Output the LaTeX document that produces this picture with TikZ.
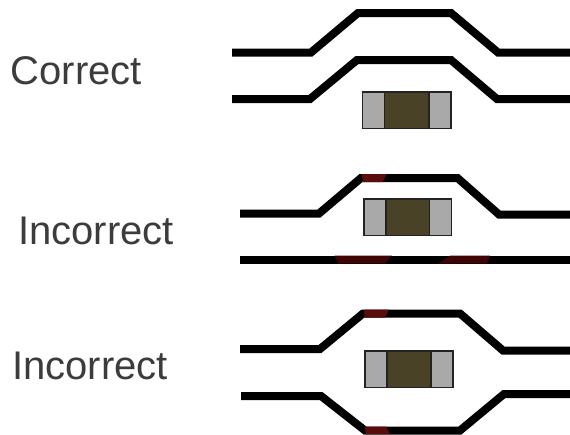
\documentclass[tikz,border=0pt]{standalone}
\usepackage{fontspec}
\setmainfont{Liberation Sans}
\definecolor{lbl}{HTML}{3C3C3C}
\definecolor{padg}{HTML}{A9A9A9}
\definecolor{bodyc}{HTML}{4A4226}
\definecolor{chipe}{HTML}{222222}
\definecolor{flaw}{HTML}{3E0404}
\definecolor{flawtop}{HTML}{5A0C0C}
\tikzset{
  trace/.style={draw=black,line width=8pt,line join=miter,line cap=butt},
  pad/.style={fill=padg,draw=chipe,line width=1.6pt},
  chipbody/.style={fill=bodyc,draw=chipe,line width=1.6pt},
  flawmark/.style={fill=flaw,draw=none},
  flawupper/.style={fill=flawtop,draw=none},
  lab/.style={text=lbl,font=\fontsize{40}{46}\selectfont,inner sep=0pt,anchor=base west}
}
\newcommand{\chipat}[3]{%
  \draw[pad] (#1,#3) rectangle (#2,#3+36.5);
  \pgfmathsetmacro{\ca}{#1+22}\pgfmathsetmacro{\cb}{#2-22}
  \draw[chipbody] (\ca,#3) rectangle (\cb,#3+36.5);
}
\begin{document}
\begin{tikzpicture}[x=1pt,y=-1pt]
\useasboundingbox (0,0) rectangle (570,434);
\fill[white] (0,0) rectangle (570,434);
% labels
\node[lab] (l1) at (10.5,84.5) {Correct};
\node[lab] (l2) at (18,244.5) {Incorrect};
\node[lab] (l3) at (12,379.5) {Incorrect};
% correct
\draw[trace] (232,52.5) -- (311,52.5) -- (358,13) -- (451,13) -- (498,52.5) -- (570,52.5);
\draw[trace] (232,99) -- (310,99) -- (357,60) -- (451,60) -- (497,99) -- (570,99);
\chipat{362.5}{451}{92}
% incorrect 1
\draw[trace] (240,213.5) -- (319,213.5) -- (361,178) -- (457.5,178) -- (499,214.5) -- (570,214.5);
\draw[trace] (240,259.5) -- (570,259.5);
\fill[flawupper] (362,174) -- (387,174) -- (382.5,182) -- (362.5,182) -- cycle;
\fill[flawmark] (334.5,255.5) -- (392,255.5) -- (385,263.5) -- (338.5,263.5) -- cycle;
\fill[flawmark] (450.5,255.5) -- (490,255.5) -- (487,263.5) -- (438,263.5) -- cycle;
\chipat{364}{451.5}{199}
% incorrect 2
\draw[trace] (240,349) -- (320,349) -- (363,313.5) -- (460,313.5) -- (503,350.5) -- (570,350.5);
\draw[trace] (241,396) -- (321,396) -- (365,430.5) -- (460,430.5) -- (504,394) -- (570,394);
\fill[flawupper] (364,309.5) -- (389,309.5) -- (385,317.5) -- (364.5,317.5) -- cycle;
\fill[flawupper] (365,426.5) -- (386,426.5) -- (390,434) -- (366,434) -- cycle;
\chipat{365}{453}{351}
\end{tikzpicture}
\end{document}
